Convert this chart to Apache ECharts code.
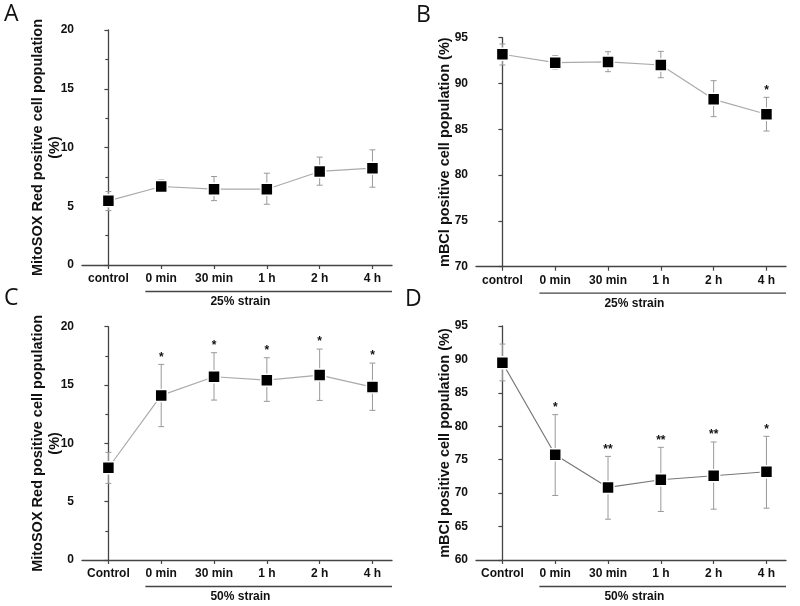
<!DOCTYPE html>
<html><head><meta charset="utf-8">
<script src="https://cdn.jsdelivr.net/npm/echarts@6/dist/echarts.min.js"></script>
<style>html,body{margin:0;padding:0;background:#fff}#c{width:800px;height:606px}</style>
</head><body><div id="c"></div>
<script>
// ---- data ----
const catsLower = ['control', '0 min', '30 min', '1 h', '2 h', '4 h'];
const catsUpper = ['Control', '0 min', '30 min', '1 h', '2 h', '4 h'];

const aMean = [5.46, 6.68, 6.45, 6.45, 7.96, 8.24];
const aHigh = [6.25, 7.25, 7.53, 7.81, 9.18, 9.80];
const aLow  = [4.63, 6.20, 5.48, 5.17, 6.79, 6.62];
const aSig  = ['', '', '', '', '', ''];

const bMean = [93.19, 92.27, 92.35, 92.02, 88.27, 86.64];
const bHigh = [94.31, 93.03, 93.47, 93.51, 90.31, 88.49];
const bLow  = [92.02, 91.55, 91.29, 90.63, 86.38, 84.81];
const bSig  = ['', '', '', '', '', '*'];

const cMean = [7.91, 14.11, 15.71, 15.42, 15.85, 14.82];
const cHigh = [9.23, 16.77, 17.77, 17.34, 18.08, 16.88];
const cLow  = [6.57, 11.43, 13.71, 13.60, 13.68, 12.83];
const cSig  = ['', '*', '*', '*', '*', '*'];

const dMean = [89.5, 75.74, 70.85, 72.0, 72.6, 73.2];
const dHigh = [92.3, 81.74, 75.5, 76.85, 77.65, 78.5];
const dLow  = [86.8, 69.65, 66.1, 67.25, 67.6, 67.75];
const dSig  = ['', '*', '**', '**', '**', '*'];

const yTitleMito = 'MitoSOX Red positive cell population\n(%)';
const yTitleMbcl = 'mBCl positive cell population (%)';
const strain25 = '25% strain';
const strain50 = '50% strain';

// ---- chart ----
const FONT = '"Liberation Sans", Arial, sans-serif';
const AX = '#444';
const panels = [
  {grid:{left:82, top:30, width:310, height:235}, cats:catsLower, mean:aMean, hi:aHigh, lo:aLow, sig:aSig, ymin:0, ymax:20, minor:true, name:yTitleMito, gap:19, strain:strain25, lineColor:'#aaa'},
  {grid:{left:476, top:37.7, width:310, height:229}, cats:catsLower, mean:bMean, hi:bHigh, lo:bLow, sig:bSig, ymin:70, ymax:95, minor:false, name:yTitleMbcl, gap:22.5, strain:strain25, lineColor:'#aaa'},
  {grid:{left:82, top:326.7, width:310, height:233.3}, cats:catsUpper, mean:cMean, hi:cHigh, lo:cLow, sig:cSig, ymin:0, ymax:20, minor:true, name:yTitleMito, gap:19, strain:strain50, lineColor:'#aaa'},
  {grid:{left:476, top:326, width:310, height:234}, cats:catsUpper, mean:dMean, hi:dHigh, lo:dLow, sig:dSig, ymin:60, ymax:95, minor:false, name:yTitleMbcl, gap:22.5, strain:strain50, lineColor:'#777'}
];

const idx = [0,1,2,3,4,5];
const option = {
  animation:false,
  backgroundColor:'#fff',
  grid: panels.map(p => Object.assign({containLabel:false}, p.grid)),
  xAxis: panels.map((p,i) => ({
    type:'value', gridIndex:i, min:-0.5, max:5.37,
    axisLine:{show:true, lineStyle:{color:AX, width:1.3}},
    axisTick:{show:true, customValues:idx, length:4, lineStyle:{color:AX, width:1.2}},
    axisLabel:{customValues:idx, formatter:v => p.cats[Math.round(v)], color:'#111', fontFamily:FONT, fontWeight:'bold', fontSize:12, margin:8},
    splitLine:{show:false}
  })),
  yAxis: panels.map((p,i) => ({
    type:'value', gridIndex:i, min:p.ymin, max:p.ymax, interval:5,
    name:p.name, nameLocation:'middle', nameGap:p.gap, nameRotate:90, nameMoveOverlap:false,
    nameTextStyle:{color:'#111', fontFamily:FONT, fontWeight:'bold', fontSize:14.5, lineHeight:17},
    axisLine:{show:true, lineStyle:{color:AX, width:1.3}},
    axisTick:{show:true, length:4, lineStyle:{color:AX, width:1.2}},
    minorTick:{show:p.minor, splitNumber:2, length:3, lineStyle:{color:AX, width:1.2}},
    axisLabel:{color:'#111', fontFamily:FONT, fontWeight:'bold', fontSize:12, margin:8},
    splitLine:{show:false}, minorSplitLine:{show:false}
  })),
  graphic: [
    {type:'text', left:4, top:3, style:{text:'A', font:'23px "Open Sans", sans-serif', fill:'#111'}},
    {type:'text', left:416, top:4, style:{text:'B', font:'23px "Open Sans", sans-serif', fill:'#111'}},
    {type:'text', left:4, top:287, style:{text:'C', font:'23px "Open Sans", sans-serif', fill:'#111'}},
    {type:'text', left:405, top:288, style:{text:'D', font:'23px "Open Sans", sans-serif', fill:'#111'}}
  ],
  series: []
};

panels.forEach((p,i) => {
  // error bars + significance marks
  option.series.push({
    type:'custom', xAxisIndex:i, yAxisIndex:i, z:2, clip:false,
    data: idx.map(k => [k, p.lo[k], p.hi[k]]),
    renderItem:(params, api) => {
      const x = api.value(0);
      const top = api.coord([x, api.value(2)]);
      const bot = api.coord([x, api.value(1)]);
      const st = {stroke:'#999', lineWidth:1};
      const ch = [
        {type:'line', shape:{x1:top[0], y1:top[1], x2:bot[0], y2:bot[1]}, style:st},
        {type:'line', shape:{x1:top[0]-3, y1:top[1], x2:top[0]+3, y2:top[1]}, style:st},
        {type:'line', shape:{x1:bot[0]-3, y1:bot[1], x2:bot[0]+3, y2:bot[1]}, style:st}
      ];
      const s = p.sig[params.dataIndex];
      if (s) ch.push({type:'text', x:top[0], y:top[1]-7, style:{text:s, fill:'#111', font:'bold 12px ' + FONT, textAlign:'center', textVerticalAlign:'middle'}});
      return {type:'group', children:ch};
    }
  });
  // mean line + squares
  option.series.push({
    type:'line', xAxisIndex:i, yAxisIndex:i, z:3,
    data: idx.map(k => [k, p.mean[k]]),
    symbol:'rect', symbolSize:12,
    lineStyle:{color:p.lineColor, width:1.2},
    itemStyle:{color:'#000', borderColor:'#fff', borderWidth:1.5},
    emphasis:{disabled:true}
  });
  // strain bracket beneath the time points
  option.series.push({
    type:'custom', xAxisIndex:i, yAxisIndex:i, z:2, clip:false, silent:true,
    data: [[0.7, 5.37, 2.5]],
    renderItem:(params, api) => {
      const a = api.coord([api.value(0), p.ymin]);
      const b = api.coord([api.value(1), p.ymin]);
      const c = api.coord([api.value(2), p.ymin]);
      return {type:'group', children:[
        {type:'line', shape:{x1:a[0], y1:a[1]+26.5, x2:b[0], y2:b[1]+26.5}, style:{stroke:AX, lineWidth:1.3}},
        {type:'text', x:c[0], y:c[1]+36.5, style:{text:p.strain, fill:'#111', font:'bold 12px ' + FONT, textAlign:'center', textVerticalAlign:'middle'}}
      ]};
    }
  });
});

const chart = echarts.init(document.getElementById('c'), null, {renderer:'canvas'});
chart.setOption(option);
</script></body></html>
